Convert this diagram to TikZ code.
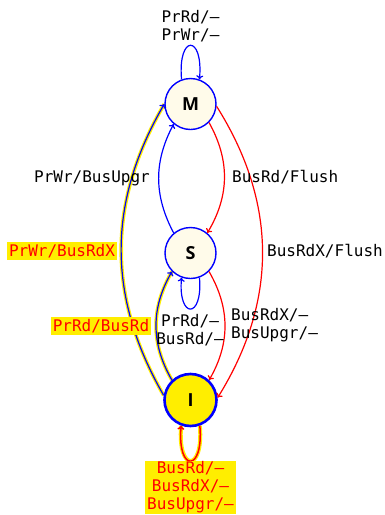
\documentclass[tikz,border=0pt]{standalone}
\usepackage{fontspec}
\setmonofont{DejaVu Sans Mono}
\newfontfamily\statefont{Open Sans}
\usetikzlibrary{arrows.meta}
\definecolor{cream}{HTML}{FFFBEA}
\definecolor{hl}{HTML}{FFEE00}
\definecolor{myred}{HTML}{FF0000}
\definecolor{myblue}{HTML}{0000FF}
\pgfdeclarelayer{bg}
\pgfsetlayers{bg,main}
\begin{document}
\begin{tikzpicture}[x=1pt,y=1pt,
  state/.style={circle, draw=myblue, line width=1.4pt, fill=cream, minimum size=51pt, inner sep=0pt,
    font=\statefont\bfseries\fontsize{18}{18}\selectfont},
  lbl/.style={font=\ttfamily\fontsize{16}{18}\selectfont, align=center, inner sep=1pt},
  hllbl/.style={lbl, fill=hl, text=myred, inner xsep=2pt, inner ysep=2pt},
  tr/.style={-{To[length=4pt,width=7pt]}, line width=1.2pt},
  under/.style={draw=hl, line width=3.6pt},
]
\useasboundingbox (0,0) rectangle (384,-515);

\node[state] (M) at (190.5,-104) {M};
\node[state] (S) at (190.5,-253) {S};
\node[state, fill=hl, line width=2.6pt, minimum size=52pt] (I) at (190.5,-400) {I};

% highlight underlays
\begin{pgfonlayer}{bg}
  \draw[under] (I.170) to[bend left=30] (M.180);
  \draw[under] (I.133) to[bend left=30] (S.-135);
  \draw[under, line width=4pt] (I.-70) to[out=-85,in=-95,looseness=6.5] (I.-110);
\end{pgfonlayer}

% self loops
\draw[tr, myblue] (M.110) to[out=95,in=85,looseness=6.5] (M.70);
\draw[tr, myblue] (S.-70) to[out=-85,in=-95,looseness=6] (S.-110);
\draw[tr, myred, line width=1.5pt] (I.-70) to[out=-85,in=-95,looseness=6.5] (I.-110);

% transitions
\draw[tr, myblue] (S.130) to[bend left=28] (M.-130);
\draw[tr, myred] (M.-45) to[bend left=30] (S.50);
\draw[tr, myred] (M.-5) to[bend left=32] (I.5);
\draw[tr, myred] (S.-45) to[bend left=30] (I.47);
\draw[tr, myblue] (I.170) to[bend left=30] (M.180);
\draw[tr, myblue] (I.133) to[bend left=30] (S.-135);

% labels
\node[lbl] (lMM) at (190.5,-26) {PrRd/–\\PrWr/–};
\node[lbl] (lSM) at (92,-178) {PrWr/BusUpgr};
\node[lbl, anchor=west] (lMS) at (231,-177) {BusRd/Flush};
\node[lbl, anchor=west] (lMI) at (266,-251) {BusRdX/Flush};
\node[hllbl] (lIM) at (62,-251) {PrWr/BusRdX};
\node[hllbl] (lIS) at (101,-326) {PrRd/BusRd};
\node[lbl, anchor=west, align=left] (lSI) at (230,-325) {BusRdX/–\\BusUpgr/–};
\node[lbl] (lSS) at (190,-330) {PrRd/–\\BusRd/–};
\node[hllbl, inner ysep=1pt] (lII) at (190.5,-487.5) {BusRd/–\\BusRdX/–\\BusUpgr/–};
\end{tikzpicture}
\end{document}
